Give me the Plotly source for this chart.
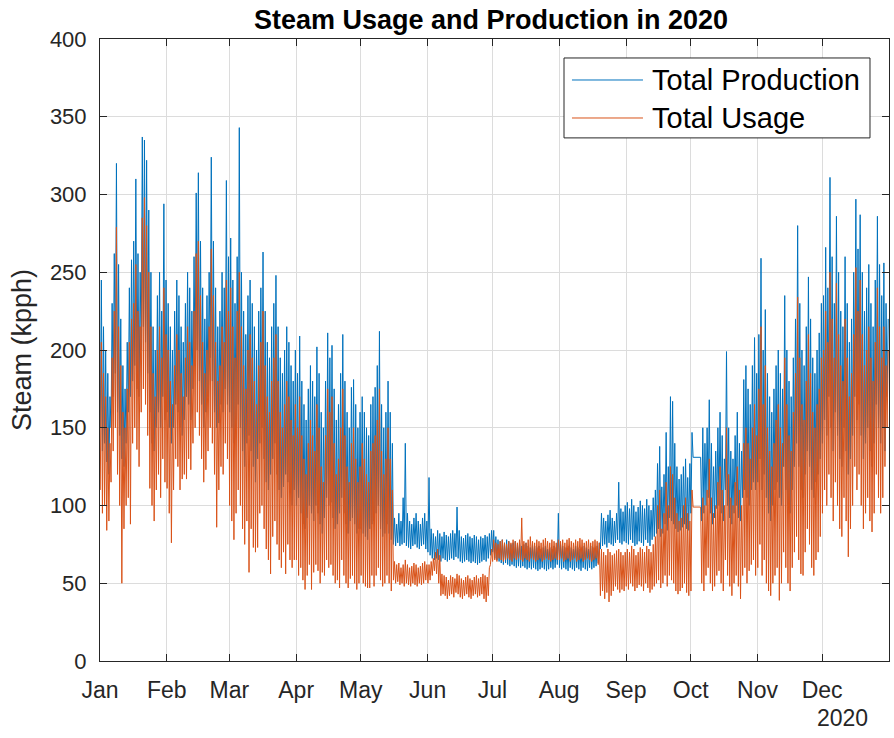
import numpy as np
import pandas as pd
import plotly.graph_objects as go

# Daily steam figures for 2020 (kpph): one high and one low reading per day.
YEAR_START = "2020-01-01"
YEAR_END = "2021-01-01"
MONTH_LABELS = ["Jan", "Feb", "Mar", "Apr", "May", "Jun",
                "Jul", "Aug", "Sep", "Oct", "Nov", "Dec"]
Y_TICKS = [0, 50, 100, 150, 200, 250, 300, 350, 400]

PRODUCTION_HIGH = [
    # Jan
    245, 215, 200, 185, 170, 230, 262, 320, 255, 220, 190, 175, 205, 240, 258, 270,
    310, 262, 250, 337, 335, 322, 290, 250, 215, 200, 235, 250, 225, 294, 245,
    # Feb
    230, 215, 200, 225, 245, 235, 215, 205, 230, 250, 240, 225, 260, 301, 314,
    270, 240, 220, 235, 250, 324, 270, 240, 215, 225, 250, 240, 309, 260,
    # Mar
    272, 245, 230, 260, 343, 250, 225, 210, 235, 245, 230, 215, 200, 225, 240, 263,
    225, 205, 195, 215, 230, 248, 215, 195, 185, 200, 215, 205, 190, 180, 200,
    # Apr
    185, 209, 180, 165, 155, 175, 190, 180, 170, 202, 185, 160, 150, 180, 211,
    195, 203, 175, 155, 165, 185, 210, 180, 160, 150, 176, 181, 165, 150, 160,
    # May
    170, 160, 150, 145, 165, 170, 176, 190, 212, 165, 150, 160, 180, 160, 140, 92,
    88, 95, 90, 105, 140, 95, 90, 88, 92, 95, 90, 88, 92, 95, 90,
    # Jun
    118, 85, 82, 80, 84, 82, 80, 83, 81, 80, 82, 84, 82, 99, 84,
    80, 79, 81, 82, 80, 79, 81, 80, 78, 80, 79, 81, 80, 82, 84,
    # Jul
    84, 80, 78, 77, 78, 76, 78, 77, 75, 76, 77, 75, 76, 74, 75, 76,
    74, 73, 75, 74, 73, 74, 72, 73, 74, 72, 73, 72, 74, 73, 95,
    # Aug
    75, 74, 73, 72, 74, 73, 72, 74, 73, 72, 73, 74, 73, 72, 74, 73,
    72, 74, 76, 95, 92, 90, 94, 97, 92, 90, 95, 115, 98, 96, 100,
    # Sep
    102, 98, 104, 100, 96, 99, 103, 100, 98, 104, 100, 97, 105, 110, 127,
    138, 112, 120, 147, 125, 170, 167, 140, 125, 117, 120, 125, 130, 118, 127,
    # Oct
    147, 131, 131, 131, 131, 150, 140, 150, 168, 140, 125, 135, 150, 160, 145, 130,
    199, 150, 135, 130, 145, 160, 140, 135, 181, 190, 175, 165, 190, 208, 185,
    # Nov
    210, 259, 200, 226, 185, 170, 160, 175, 190, 200, 185, 175, 235, 200, 180,
    170, 195, 220, 280, 230, 200, 190, 215, 247, 220, 195, 185, 200, 211, 230,
    # Dec
    235, 266, 240, 311, 260, 230, 286, 250, 225, 215, 260, 230, 205, 220, 250, 297,
    265, 287, 250, 225, 240, 255, 230, 215, 245, 286, 255, 235, 256, 230, 220,
]

PRODUCTION_LOW = [
    # Jan
    150, 135, 140, 128, 120, 150, 170, 185, 160, 145, 130, 125, 140, 160, 170, 180,
    190, 175, 170, 200, 215, 205, 185, 160, 140, 135, 150, 160, 150, 170, 155,
    # Feb
    160, 150, 140, 150, 165, 160, 150, 145, 155, 170, 165, 155, 175, 190, 200,
    180, 165, 150, 160, 170, 195, 180, 160, 150, 153, 165, 160, 175, 165,
    # Mar
    160, 150, 140, 150, 165, 150, 135, 125, 140, 145, 135, 125, 115, 130, 140, 150,
    130, 115, 110, 120, 130, 140, 120, 110, 105, 112, 120, 115, 108, 100, 110,
    # Apr
    100, 105, 95, 88, 85, 92, 100, 95, 90, 100, 95, 88, 82, 92, 105,
    100, 102, 92, 85, 88, 95, 105, 95, 88, 82, 90, 92, 88, 82, 85,
    # May
    85, 82, 80, 78, 85, 88, 90, 95, 100, 85, 80, 82, 88, 82, 78, 75,
    74, 76, 74, 75, 76, 74, 73, 72, 74, 75, 73, 72, 74, 75, 72,
    # Jun
    70, 68, 66, 65, 66, 65, 64, 66, 65, 64, 65, 66, 65, 67, 66,
    64, 63, 64, 65, 64, 63, 64, 63, 62, 63, 64, 65, 64, 66, 68,
    # Jul
    70, 66, 65, 64, 63, 62, 63, 62, 61, 62, 61, 60, 61, 60, 61, 60,
    59, 60, 59, 60, 59, 58, 59, 60, 59, 58, 59, 60, 59, 60, 62,
    # Aug
    60, 59, 60, 59, 58, 60, 59, 58, 60, 59, 58, 60, 59, 58, 60, 59,
    60, 61, 63, 72, 74, 75, 73, 76, 75, 74, 76, 78, 76, 75, 77,
    # Sep
    76, 75, 78, 76, 74, 75, 77, 76, 74, 78, 76, 74, 78, 80, 82,
    85, 80, 82, 88, 84, 92, 90, 88, 85, 83, 84, 86, 88, 85, 84,
    # Oct
    95, 131, 131, 131, 131, 90, 95, 100, 105, 95, 88, 92, 98, 100, 95, 90,
    110, 100, 92, 88, 95, 100, 92, 90, 105, 110, 105, 100, 110, 115, 110,
    # Nov
    115, 130, 110, 120, 105, 95, 90, 100, 110, 115, 105, 100, 125, 110, 100,
    95, 110, 125, 140, 125, 110, 105, 120, 135, 125, 110, 105, 115, 120, 130,
    # Dec
    140, 155, 145, 170, 150, 135, 160, 145, 130, 125, 150, 135, 120, 130, 145, 170,
    155, 165, 145, 130, 140, 150, 135, 125, 140, 165, 150, 140, 150, 135, 170,
]

USAGE_HIGH = [
    # Jan
    205, 185, 170, 150, 140, 195, 225, 279, 215, 190, 160, 150, 175, 205, 220, 230,
    255, 225, 215, 285, 298, 280, 250, 215, 185, 170, 200, 215, 195, 240, 210,
    # Feb
    200, 180, 165, 190, 210, 200, 185, 170, 195, 215, 205, 190, 225, 262, 270,
    235, 205, 185, 200, 215, 265, 235, 205, 180, 190, 215, 205, 245, 225,
    # Mar
    240, 215, 195, 225, 250, 215, 190, 175, 200, 210, 195, 180, 165, 190, 205, 225,
    190, 170, 160, 180, 195, 210, 180, 160, 150, 165, 180, 170, 155, 145, 165,
    # Apr
    150, 170, 145, 130, 120, 140, 155, 145, 135, 165, 150, 125, 115, 145, 175,
    160, 170, 140, 120, 130, 150, 175, 145, 125, 115, 140, 150, 130, 115, 125,
    # May
    140, 130, 120, 115, 135, 140, 145, 155, 175, 135, 120, 130, 150, 130, 110, 64,
    62, 63, 60, 62, 65, 62, 60, 61, 63, 62, 60, 61, 63, 64, 62,
    # Jun
    62, 64, 66, 70, 72, 68, 56, 55, 54, 52, 55, 54, 53, 56, 55,
    53, 52, 54, 55, 53, 52, 54, 55, 53, 54, 56, 55, 54, 60, 72,
    # Jul
    78, 76, 75, 77, 78, 76, 75, 77, 76, 78, 77, 76, 78, 92, 77, 76,
    78, 80, 77, 76, 78, 77, 76, 78, 79, 77, 76, 78, 77, 76, 78,
    # Aug
    77, 78, 76, 78, 79, 77, 76, 78, 77, 79, 78, 76, 77, 78, 76, 77,
    78, 77, 76, 72, 70, 68, 72, 70, 68, 69, 71, 72, 70, 68, 70,
    # Sep
    72, 70, 74, 72, 68, 70, 73, 72, 70, 74, 72, 70, 75, 80, 100,
    110, 85, 95, 115, 100, 125, 120, 105, 95, 90, 92, 100, 105, 95, 90,
    # Oct
    110, 99, 99, 99, 99, 105, 100, 110, 130, 105, 95, 100, 115, 125, 110, 100,
    150, 120, 105, 100, 115, 125, 110, 100, 140, 150, 140, 130, 150, 165, 145,
    # Nov
    175, 215, 165, 190, 150, 135, 125, 140, 155, 165, 150, 140, 195, 165, 145,
    135, 160, 185, 234, 195, 165, 155, 180, 210, 185, 160, 150, 165, 175, 195,
    # Dec
    200, 225, 205, 250, 220, 195, 243, 210, 190, 180, 220, 195, 170, 185, 210, 253,
    225, 245, 210, 190, 200, 215, 195, 180, 205, 240, 215, 195, 215, 190, 200,
]

USAGE_LOW = [
    # Jan
    110, 95, 100, 84, 90, 115, 135, 150, 120, 100, 50, 85, 100, 105, 88, 140,
    150, 136, 125, 160, 175, 165, 145, 111, 100, 90, 110, 120, 105, 130, 115,
    # Feb
    111, 95, 76, 110, 130, 125, 110, 117, 120, 117, 130, 123, 140, 150, 160,
    145, 130, 115, 123, 135, 150, 140, 120, 86, 110, 125, 120, 140, 130,
    # Mar
    100, 90, 78, 95, 110, 100, 85, 75, 90, 57, 85, 73, 70, 73, 95, 100,
    85, 72, 65, 56, 80, 90, 75, 65, 60, 70, 56, 75, 65, 60, 65,
    # Apr
    65, 55, 60, 52, 46, 55, 62, 46, 57, 62, 58, 50, 57, 55, 65,
    60, 62, 55, 50, 52, 47, 65, 55, 50, 47, 53, 55, 50, 46, 50,
    # May
    55, 50, 48, 47, 47, 55, 48, 55, 60, 52, 48, 50, 55, 50, 45, 52,
    50, 51, 49, 50, 48, 50, 49, 48, 50, 49, 48, 50, 49, 50, 52,
    # Jun
    50, 52, 55, 58, 56, 50, 42, 43, 42, 40, 42, 43, 41, 44, 43,
    41, 40, 42, 43, 41, 40, 42, 43, 41, 42, 43, 40, 38, 42, 62,
    # Jul
    64, 65, 64, 66, 65, 64, 65, 66, 65, 64, 66, 65, 66, 65, 64, 66,
    65, 64, 66, 65, 64, 65, 66, 64, 65, 66, 65, 64, 65, 66, 65,
    # Aug
    65, 66, 64, 65, 66, 64, 65, 66, 64, 65, 66, 64, 65, 66, 65, 64,
    65, 66, 62, 42, 45, 40, 44, 38, 42, 45, 48, 46, 44, 46, 45,
    # Sep
    48, 46, 50, 48, 45, 47, 49, 48, 45, 50, 47, 44, 46, 48, 50,
    52, 47, 50, 55, 48, 55, 52, 50, 45, 43, 45, 47, 50, 44, 42,
    # Oct
    45, 99, 99, 99, 99, 50, 45, 55, 60, 50, 45, 48, 55, 58, 50, 45,
    65, 55, 48, 42, 50, 55, 48, 40, 55, 60, 50, 58, 62, 65, 55,
    # Nov
    60, 75, 55, 65, 50, 45, 42, 50, 55, 60, 39, 50, 70, 60, 50,
    45, 60, 70, 80, 65, 56, 55, 70, 85, 75, 60, 55, 65, 70, 80,
    # Dec
    95, 110, 100, 120, 105, 90, 115, 100, 85, 80, 105, 90, 67, 85, 100, 125,
    110, 120, 100, 85, 95, 105, 90, 83, 95, 120, 105, 95, 105, 125, 150,
]

SERIES_NAMES = ["Total Production", "Total Usage"]
SERIES_COLORS = ["#0072BD", "#D95319"]

n_days = len(PRODUCTION_HIGH)
assert n_days == 366
assert all(len(s) == n_days for s in (PRODUCTION_LOW, USAGE_HIGH, USAGE_LOW))

# Each day contributes its low reading in the early hours and its high later on.
days = pd.date_range(YEAR_START, periods=n_days, freq="D")
times = np.empty(2 * n_days, dtype="datetime64[ns]")
times[0::2] = (days + pd.Timedelta(hours=3)).values
times[1::2] = (days + pd.Timedelta(hours=15)).values


def day_cycle(low, high):
    values = np.empty(2 * len(low))
    values[0::2] = low
    values[1::2] = high
    return values


production = day_cycle(PRODUCTION_LOW, PRODUCTION_HIGH)
usage = day_cycle(USAGE_LOW, USAGE_HIGH)

FONT = "Liberation Sans, Arial, Helvetica, sans-serif"
AXIS_COLOR = "#262626"
GRID_COLOR = "#dcdcdc"

fig = go.Figure()
for name, color, values in zip(SERIES_NAMES, SERIES_COLORS, (production, usage)):
    fig.add_trace(go.Scatter(
        x=times, y=values, mode="lines", name=name,
        line=dict(color=color, width=1), showlegend=False,
    ))

month_starts = pd.date_range(YEAR_START, periods=12, freq="MS")

fig.update_layout(
    width=894, height=738,
    margin=dict(l=100, r=5, t=39, b=77),
    paper_bgcolor="white", plot_bgcolor="white",
    font=dict(family=FONT, color=AXIS_COLOR),
    title=dict(
        text="<b>Steam Usage and Production in 2020</b>",
        font=dict(family=FONT, size=27, color="black"),
        x=0.4956, xref="paper", xanchor="center",
        y=1 - 20 / 738, yref="container", yanchor="middle",
    ),
    xaxis=dict(
        type="date", range=[YEAR_START, YEAR_END],
        tickvals=month_starts, ticktext=MONTH_LABELS,
        ticks="inside", ticklen=7, tickcolor=AXIS_COLOR, tickwidth=1,
        showline=True, linecolor=AXIS_COLOR, linewidth=1, mirror="ticks",
        showgrid=True, gridcolor=GRID_COLOR, gridwidth=1, zeroline=False,
        tickfont=dict(size=23, color=AXIS_COLOR), ticklabelstandoff=8,
    ),
    yaxis=dict(
        range=[0, 400], tickvals=Y_TICKS,
        ticks="inside", ticklen=7, tickcolor=AXIS_COLOR, tickwidth=1,
        showline=True, linecolor=AXIS_COLOR, linewidth=1, mirror="ticks",
        showgrid=True, gridcolor=GRID_COLOR, gridwidth=1, zeroline=False,
        tickfont=dict(size=22, color=AXIS_COLOR), ticklabelstandoff=8,
        title=dict(text="Steam (kpph)", font=dict(size=27, color=AXIS_COLOR), standoff=10),
    ),
)

# Year caption under the month labels
fig.add_annotation(
    text="2020", xref="paper", yref="paper", x=0.976, y=-0.092,
    xanchor="right", yanchor="middle", showarrow=False,
    font=dict(family=FONT, size=23, color=AXIS_COLOR),
)

# Boxed legend in the upper right of the axes
fig.add_shape(type="rect", xref="paper", yref="paper",
              x0=0.5881, x1=0.9759, y0=0.8410, y1=0.9695,
              line=dict(color=AXIS_COLOR, width=1), fillcolor="white", layer="above")
for row, (name, color) in enumerate(zip(SERIES_NAMES, SERIES_COLORS)):
    ly = 0.9341 - row * 0.0611
    fig.add_shape(type="line", xref="paper", yref="paper",
                  x0=0.5982, x1=0.6882, y0=ly, y1=ly,
                  line=dict(color=color, width=1), layer="above")
    fig.add_annotation(text=name, xref="paper", yref="paper", x=0.6965, y=ly,
                       xanchor="left", yanchor="middle", showarrow=False,
                       font=dict(family=FONT, size=29, color="black"))

fig.write_html("out.html")
